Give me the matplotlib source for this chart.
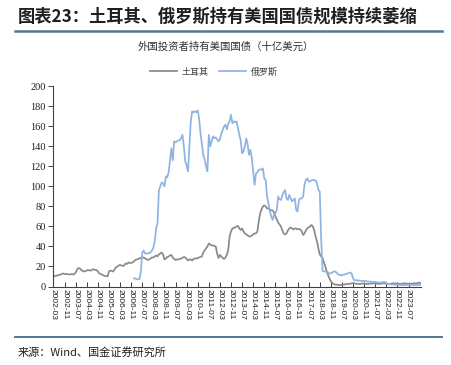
import numpy as np
import matplotlib
matplotlib.use("Agg")
import matplotlib.pyplot as plt
from matplotlib.lines import Line2D

plt.rcParams['font.family'] = ['Noto Sans CJK SC', 'DejaVu Sans']

# ---------------- data (US Treasury holdings, billion USD, monthly from 2002-03) -------------
start_year, start_month = 2002, 3

turkey = [
    10, 10.5, 11, 11, 11.5, 12, 12.5, 13, 12.5, 12.5,
    12.5, 12, 12, 12.5, 12, 12.5, 14, 17, 18.5, 18,
    16.5, 15.5, 15, 15.5, 16, 16.5, 16, 16, 17, 17,
    16.5, 16.5, 15, 13, 12.5, 12, 11, 10.5, 10.5, 10,
    15, 16, 15.5, 15, 17, 19, 20, 21, 21.5, 21,
    20.5, 21, 23, 22.5, 24, 23.5, 23.5, 24, 25, 26.5,
    27, 27.5, 28, 28.5, 29, 29, 28, 27.5, 26.5, 27,
    28, 29, 29, 30, 31, 30, 32, 33, 34, 32,
    27, 28, 29.5, 30, 31, 31.5, 29, 27.5, 26.5, 27,
    27, 27.5, 28, 28.5, 29.5, 29, 27.5, 26, 27, 27,
    26, 27.5, 28, 28, 28.5, 29, 29.5, 30, 34, 36,
    38, 40, 43, 42, 41, 41, 40.5, 40, 33, 28.5,
    31.5, 30, 28.5, 27.5, 29, 31.5, 36.5, 50, 55, 58,
    58.5, 59, 60, 60.5, 58, 56.5, 58, 55, 53, 52,
    51, 50, 50, 51, 52, 53, 53, 55, 65, 73,
    77, 80, 81, 80, 78, 78, 77, 76, 76, 74,
    70, 67, 64, 62, 60, 56, 53, 52, 53, 56,
    58, 59, 58, 57, 58, 58, 57, 57.5, 57, 55,
    51.5, 53, 56, 58, 59, 60, 61.5, 60, 56, 50,
    45, 38, 32, 30, 28.5, 24, 20, 15, 11.5, 8,
    5, 3.5, 2.5, 2, 1.8, 1.5, 1.5, 1.5, 1.8, 2,
    2, 2.5, 2.5, 2.5, 3, 3, 3.2, 3, 2.8, 2.5,
    2.5, 2.5, 2.8, 3, 2.8, 2.5, 2.5, 2.5, 2.8, 3,
    3, 3.2, 3, 2.8, 2.5, 2.5, 2.8, 3, 3.2, 3,
    2.8, 2.5, 2.5, 2.8, 3, 3.2, 3, 3, 2.8, 2.5,
    2.5, 2.8, 3, 3.2, 3, 2.8, 2.5, 2.5, 2.8, 3,
    3.2, 3, 3.2, 3.5, 4, 3,
]

russia_start_offset = 58  # Russia series begins 2007-01
russia = [
    8, 8,
    7.5, 7, 7.5, 15, 34, 36, 33, 33, 33, 33.5,
    34, 36, 39, 45, 58, 63, 96, 100, 104, 103,
    100, 110, 109, 114, 126, 138, 126, 145, 144, 145,
    146, 146, 148, 151.5, 140, 125, 121, 115, 140, 165,
    175, 174, 175, 174, 176, 168, 153, 142, 131.5, 127,
    120, 115, 151.5, 140, 145, 150, 148, 149, 147, 145,
    147, 153, 156, 160, 161.5, 157, 163, 165, 171.5, 163,
    165, 164, 165, 158, 151.5, 146, 133, 135, 140, 148,
    142, 131.5, 136.5, 128, 115, 101.5, 113, 114, 116.5, 117,
    116.5, 118, 108, 106.5, 90, 83, 75, 70, 66.5, 71.5,
    73, 76.5, 90, 87, 86.5, 91, 94, 96.5, 88, 86.5,
    91.5, 88, 85, 86.5, 88, 76.5, 75, 86.5, 88, 88,
    90, 101.5, 106.5, 108, 105, 105, 106, 106.5, 106, 106,
    103, 96.5, 95, 48, 15.5, 15, 15, 15, 14, 13,
    13, 14, 15, 15, 14, 12.5, 11.5, 11.5, 11, 12,
    12, 12.5, 13, 13.5, 14, 13, 8, 6, 6.5, 6,
    6, 6, 5.5, 5.5, 5.5, 5.5, 5, 5, 4.8, 4.8,
    4.5, 4.5, 4.5, 4.2, 4, 4, 4, 4, 4.5, 4.5,
    3.5, 2.5, 2.5, 2.2, 2, 2, 1.8, 1.5, 1.5, 1.5,
    1.5, 1.5, 1.5, 1.5, 1.5, 1.5, 1.5, 1.5, 1.5, 1.5,
    1.5, 1.5, 1.5, 1.5, 1.5, 1.5,
]

series_names = ["土耳其", "俄罗斯"]
title = "图表23：土耳其、俄罗斯持有美国国债规模持续萎缩"
subtitle = "外国投资者持有美国国债（十亿美元）"
source = "来源：Wind、国金证券研究所"
y_ticks = [0, 20, 40, 60, 80, 100, 120, 140, 160, 180, 200]
tick_step = 8
last_tick = 256  # 2023-07

# ---------------- derived ----------------
n = len(turkey)
x = np.arange(n)
russia_full = np.full(n, np.nan)
russia_full[russia_start_offset:russia_start_offset + len(russia)] = russia

def month_label(i):
    tot = start_year * 12 + (start_month - 1) + i
    return f"{tot // 12}-{tot % 12 + 1:02d}"

tick_pos = list(range(0, last_tick + 1, tick_step))
tick_labels = [month_label(i) for i in tick_pos]

# ---------------- figure ----------------
W, H = 452, 365
fig = plt.figure(figsize=(W / 100, H / 100), dpi=100)

def fx(px):
    return px / W

def fy(py):
    return 1 - py / H

ax_left, ax_right, ax_top, ax_bottom = 53.5, 421, 86.3, 286.5
ax = fig.add_axes([fx(ax_left), fy(ax_bottom), fx(ax_right - ax_left), (ax_bottom - ax_top) / H])

c_tr = "#8a8a8a"
c_ru = "#8db4e2"
lw = 1.25
ax.plot(x, turkey, color=c_tr, lw=lw, solid_joinstyle="round")
ax.plot(x, russia_full, color=c_ru, lw=lw, solid_joinstyle="round")

ax.set_xlim(0, n - 1)
ax.set_ylim(0, 200)
ax.set_yticks(y_ticks)
ax.set_yticklabels([str(v) for v in y_ticks], fontsize=7.5, family=["Liberation Serif"],
                   color="#202020")
ax.set_xticks(tick_pos)
ax.set_xticklabels(tick_labels, rotation=270, fontsize=6, family=["Liberation Sans"],
                   va="top", ha="center", color="#202020")
ax.tick_params(axis="x", direction="in", length=3.5, width=0.7, color="#404040", pad=2)
ax.tick_params(axis="y", direction="out", length=3.5, width=0.7, color="#404040", pad=2)
for s in ["top", "right"]:
    ax.spines[s].set_visible(False)
for s in ["left", "bottom"]:
    ax.spines[s].set_color("#404040")
    ax.spines[s].set_linewidth(0.8)

# legend
handles = [Line2D([], [], color=c_tr, lw=lw), Line2D([], [], color=c_ru, lw=lw)]
fig.legend(handles, series_names, loc="center", bbox_to_anchor=(fx(214), fy(72)),
           ncol=2, frameon=False, fontsize=6.5, handlelength=3.0, handletextpad=0.5,
           columnspacing=1.2, labelcolor="#404040")

# title and decorations
fig.text(fx(18), fy(17), title, fontsize=12.4, fontweight="bold", color="#1f1f1f",
         ha="left", va="center")
fig.text(fx(226), fy(47), subtitle, fontsize=7.5, color="#303030", ha="center", va="center")
fig.text(fx(18), fy(352), source, fontsize=8, color="#202020", ha="left", va="center")

line_color = "#4f7a94"
fig.add_artist(Line2D([fx(15), fx(442)], [fy(31), fy(31)], color=line_color, lw=1.8))
fig.add_artist(Line2D([fx(15), fx(442)], [fy(337), fy(337)], color=line_color, lw=1.4))

fig.savefig("out.png", dpi=100)
